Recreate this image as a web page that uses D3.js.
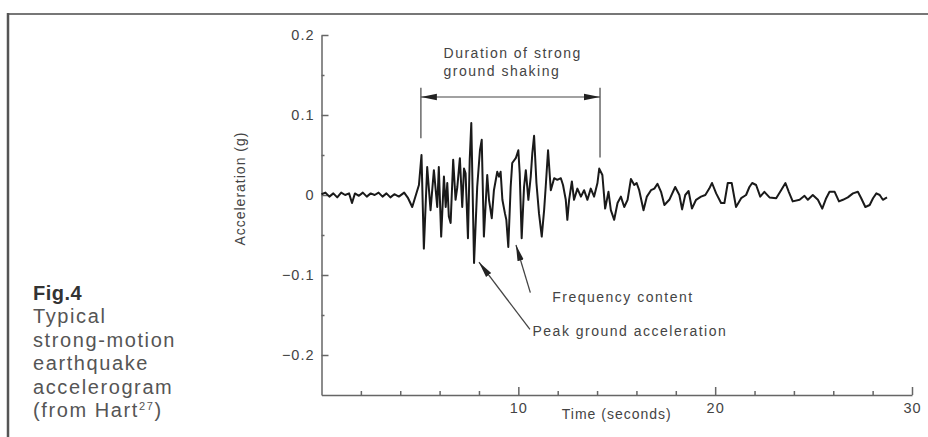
<!DOCTYPE html>
<html>
<head>
<meta charset="utf-8">
<script src="https://cdn.jsdelivr.net/npm/d3@7"></script>
<style>
  body { margin: 0; background: #fff; }
  svg text { font-family: "Liberation Sans", Arial, sans-serif; fill: #444; }
</style>
</head>
<body>
<div id="chart"></div>
<script>
// accelerogram (time in s, acceleration in g)
var time = [
  0, 0.2, 0.4, 0.6, 0.8, 1.0, 1.2, 1.4, 1.55, 1.7,
  1.9, 2.1, 2.3, 2.5, 2.7, 2.9, 3.1, 3.3, 3.5, 3.7,
  3.93, 4.2, 4.4, 4.61, 4.95, 5.08, 5.20, 5.37, 5.54, 5.71,
  5.88, 5.96, 6.08, 6.22, 6.31, 6.39, 6.47, 6.56, 6.69, 6.81,
  6.90, 7.03, 7.15, 7.24, 7.32, 7.44, 7.53, 7.61, 7.75, 7.91,
  8.05, 8.14, 8.25, 8.42, 8.51, 8.65, 8.76, 8.93, 9.02, 9.10,
  9.19, 9.32, 9.39, 9.49, 9.61, 9.69, 9.87, 10.00, 10.07, 10.17,
  10.29, 10.38, 10.51, 10.63, 10.71, 10.80, 10.92, 11.05, 11.19, 11.31,
  11.39, 11.51, 11.65, 11.82, 11.98, 12.16, 12.27, 12.41, 12.49, 12.58,
  12.72, 12.83, 13.00, 13.18, 13.34, 13.51, 13.68, 13.85, 14.02, 14.11,
  14.27, 14.41, 14.58, 14.70, 14.87, 15.04, 15.21, 15.38, 15.55, 15.72,
  15.89, 16.01, 16.14, 16.36, 16.53, 16.74, 16.91, 17.07, 17.25, 17.42,
  17.67, 17.97, 18.18, 18.32, 18.48, 18.65, 18.82, 19.03, 19.28, 19.50,
  19.70, 19.84, 20.05, 20.30, 20.47, 20.64, 20.84, 21.06, 21.32, 21.57,
  21.74, 21.88, 22.08, 22.29, 22.50, 22.76, 23.10, 23.35, 23.57, 23.74,
  23.94, 24.29, 24.54, 24.71, 24.96, 25.22, 25.44, 25.64, 25.81, 26.07,
  26.29, 26.49, 26.74, 27.00, 27.25, 27.42, 27.63, 27.85, 28.02, 28.19,
  28.36, 28.52, 28.73
];
var accel = [
  0.001, 0.003, -0.002, 0.002, -0.003, 0.003, 0.000, 0.002, -0.010, 0.002,
  -0.001, 0.003, -0.002, 0.002, 0.000, 0.003, -0.002, 0.002, -0.003, 0.001,
  -0.002, 0.003, -0.004, -0.015, 0.0125, 0.050, -0.067, 0.035, -0.019, 0.031,
  -0.015, 0.035, -0.052, 0.023, -0.015, 0.015, -0.027, -0.035, 0.044, -0.006,
  0.010, 0.046, -0.015, 0.033, 0.027, -0.054, 0.044, 0.090, -0.085, 0.010,
  0.056, 0.069, -0.052, 0.025, -0.006, -0.029, 0.006, 0.029, 0.023, 0.029,
  -0.006, -0.023, -0.031, -0.065, 0.010, 0.040, 0.046, 0.056, 0.027, -0.054,
  0.010, 0.031, -0.006, 0.023, 0.052, 0.074, 0.015, -0.023, -0.052, -0.019,
  0.010, 0.056, 0.006, 0.021, 0.019, 0.021, 0.0125, -0.006, -0.031, -0.006,
  0.017, -0.006, 0.008, -0.002, 0.006, -0.006, 0.008, -0.002, 0.015, 0.033,
  0.025, -0.017, 0.004, -0.019, -0.031, -0.010, -0.002, -0.015, -0.006, 0.020,
  0.0125, 0.015, 0.006, -0.019, -0.002, 0.006, 0.008, 0.014, 0.004, -0.0125,
  -0.006, 0.010, 0.000, -0.018, 0.000, 0.005, -0.017, -0.006, -0.002, 0.000,
  0.008, 0.015, 0.002, -0.010, -0.010, 0.015, 0.015, -0.015, -0.004, 0.000,
  0.010, 0.015, 0.0125, -0.002, 0.004, -0.003, -0.004, 0.006, 0.015, 0.004,
  -0.008, -0.006, -0.001, -0.006, 0.000, -0.006, -0.017, -0.004, 0.004, 0.004,
  -0.008, -0.006, -0.003, 0.002, 0.004, -0.004, -0.015, -0.0125, -0.004, 0.002,
  0.000, -0.006, -0.003
];

var yTicks = [0.2, 0.1, 0, -0.1, -0.2];
var yMinorTicks = [0.15, 0.05, -0.05, -0.15];
var xTicks = [10, 20, 30];
var xMinorTicks = [2, 4, 6, 8, 12, 14, 16, 18, 22, 24, 26, 28];

var captionLines = ["Typical", "strong-motion", "earthquake", "accelerogram"];

var width = 928, height = 437;

var svg = d3.select("#chart")
  .append("svg")
    .attr("width", width)
    .attr("height", height);

// frame of the printed figure
svg.append("line")
  .attr("x1", 8).attr("y1", 14).attr("x2", width).attr("y2", 14)
  .attr("stroke", "#777").attr("stroke-width", 2);
svg.append("line")
  .attr("x1", 8).attr("y1", 13).attr("x2", 8).attr("y2", height)
  .attr("stroke", "#555").attr("stroke-width", 2.5);

// scales
var x = d3.scaleLinear().domain([0, 30]).range([321.5, 912]);
var y = d3.scaleLinear().domain([-0.25, 0.2]).range([395, 35]);

var fmt = function(d) { return d === 0 ? "0" : d3.format(".1f")(d); };

// Y axis, ticks point inward
svg.append("g")
  .attr("transform", "translate(" + x(0) + ",0)")
  .call(d3.axisLeft(y).tickValues(yTicks).tickSizeInner(-7).tickSizeOuter(0)
    .tickPadding(7).tickFormat(fmt));
svg.append("g")
  .attr("transform", "translate(" + x(0) + ",0)")
  .call(d3.axisLeft(y).tickValues(yMinorTicks).tickSizeInner(-3).tickSizeOuter(0)
    .tickFormat(""))
  .select(".domain").remove();

// X axis
svg.append("g")
  .attr("transform", "translate(0," + y(-0.25) + ")")
  .call(d3.axisBottom(x).tickValues(xTicks).tickSizeInner(-8).tickSizeOuter(0)
    .tickPadding(8));
svg.append("g")
  .attr("transform", "translate(0," + y(-0.25) + ")")
  .call(d3.axisBottom(x).tickValues(xMinorTicks).tickSizeInner(-4).tickSizeOuter(0)
    .tickFormat(""))
  .select(".domain").remove();

svg.selectAll(".domain").attr("stroke", "#666").attr("stroke-width", 1.5);
svg.selectAll(".tick line").attr("stroke", "#666").attr("stroke-width", 1.5);
svg.selectAll(".tick text")
  .attr("fill", "#444")
  .style("font-family", "Liberation Sans, Arial, sans-serif")
  .style("font-size", "14.5px")
  .style("letter-spacing", "1px");

// axis titles
svg.append("text")
  .attr("transform", "translate(245," + y(0.008) + ") rotate(-90)")
  .attr("text-anchor", "middle")
  .style("font-size", "14px")
  .style("letter-spacing", "1px")
  .text("Acceleration (g)");

svg.append("text")
  .attr("x", x(15))
  .attr("y", 419)
  .attr("text-anchor", "middle")
  .style("font-size", "14px")
  .style("letter-spacing", "1px")
  .text("Time (seconds)");

// the record itself
var data = time.map(function(t, i) { return {t: t, a: accel[i]}; });
var line = d3.line()
  .x(function(d) { return x(d.t); })
  .y(function(d) { return y(d.a); });

svg.append("path")
  .datum(data)
  .attr("fill", "none")
  .attr("stroke", "#1a1a1a")
  .attr("stroke-width", 2)
  .attr("stroke-linejoin", "round")
  .attr("d", line);

// arrow heads
var defs = svg.append("defs");
defs.append("marker")
  .attr("id", "head")
  .attr("viewBox", "0 0 16 8")
  .attr("refX", 16).attr("refY", 4)
  .attr("markerWidth", 16).attr("markerHeight", 8)
  .attr("markerUnits", "userSpaceOnUse")
  .attr("orient", "auto-start-reverse")
  .append("path")
    .attr("d", "M0,0.8 L16,4 L0,7.2 Z")
    .attr("fill", "#222");

// duration of strong shaking
var tStart = 5.05, tEnd = 14.15;
svg.append("line")
  .attr("x1", x(tStart)).attr("x2", x(tStart))
  .attr("y1", y(0.134)).attr("y2", y(0.071))
  .attr("stroke", "#444").attr("stroke-width", 1.2);
svg.append("line")
  .attr("x1", x(tEnd)).attr("x2", x(tEnd))
  .attr("y1", y(0.134)).attr("y2", y(0.047))
  .attr("stroke", "#444").attr("stroke-width", 1.2);
svg.append("line")
  .attr("x1", x(tStart)).attr("x2", x(tEnd))
  .attr("y1", y(0.1225)).attr("y2", y(0.1225))
  .attr("stroke", "#444").attr("stroke-width", 1.2)
  .attr("marker-start", "url(#head)")
  .attr("marker-end", "url(#head)");

var ann = svg.append("g")
  .style("font-size", "14px")
  .style("letter-spacing", "1.5px");
ann.append("text").attr("x", x(6.2)).attr("y", 58).text("Duration of strong");
ann.append("text").attr("x", x(6.2)).attr("y", 76).text("ground shaking");

// pointers
svg.append("line")
  .attr("x1", x(10.61)).attr("y1", y(-0.122))
  .attr("x2", x(9.88)).attr("y2", y(-0.0625))
  .attr("stroke", "#444").attr("stroke-width", 1.3)
  .attr("marker-end", "url(#head)");
ann.append("text").attr("x", x(11.72)).attr("y", 302).text("Frequency content");

svg.append("line")
  .attr("x1", x(10.59)).attr("y1", y(-0.168))
  .attr("x2", x(8.0)).attr("y2", y(-0.084))
  .attr("stroke", "#444").attr("stroke-width", 1.3)
  .attr("marker-end", "url(#head)");
ann.append("text").attr("x", x(10.72)).attr("y", 336).text("Peak ground acceleration");

// caption block
var cap = svg.append("g")
  .style("font-size", "20px")
  .style("letter-spacing", "1.6px");
cap.append("text")
  .attr("x", 33).attr("y", 300)
  .style("font-weight", "bold")
  .style("letter-spacing", "0.5px")
  .style("fill", "#333")
  .text("Fig.4");
cap.selectAll("text.line")
  .data(captionLines)
  .enter()
  .append("text")
    .attr("class", "line")
    .attr("x", 33)
    .attr("y", function(d, i) { return 323 + i * 23.5; })
    .style("fill", "#555")
    .text(function(d) { return d; });
var last = cap.append("text")
  .attr("x", 33).attr("y", 417)
  .style("fill", "#555");
last.append("tspan").text("(from Hart");
last.append("tspan").attr("dy", -7).style("font-size", "11px").text("27");
last.append("tspan").attr("dy", 7).text(")");
</script>
</body>
</html>
